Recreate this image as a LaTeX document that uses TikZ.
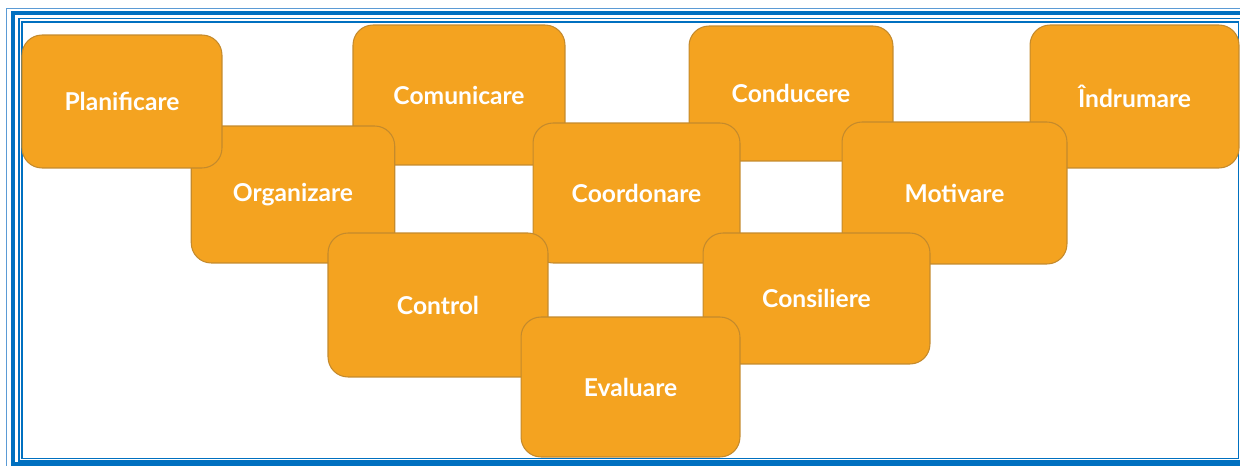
\documentclass[tikz,border=0pt]{standalone}
\usepackage{fontspec}
\setmainfont{Lato}
\usepackage{xcolor}
\usepackage{tikz}
\usetikzlibrary{positioning}

\definecolor{FrameBlue}{HTML}{0070C0}
\definecolor{FrameLight}{HTML}{5B9BD5}
\definecolor{BoxFill}{HTML}{F4A320}
\definecolor{BoxEdge}{HTML}{C48A2C}

\tikzset{
  task/.style={draw=BoxEdge, line width=0.6pt, fill=BoxFill, rounded corners=0.4cm,
    text=white, font=\fontsize{14}{16}\selectfont\bfseries, inner sep=0pt},
  frame/.style={draw=FrameBlue}
}

\begin{document}
\begin{tikzpicture}[x=0.02cm, y=-0.02cm]
\useasboundingbox (0, 0) rectangle (1240, 466);
\clip (0, 0) rectangle (1240, 466);

% double blue frame
\draw[draw=FrameLight, line width=0.5pt] (6, 8.5) rectangle (1300, 500);
\draw[frame, line width=2.4pt] (13.2, 13.3) rectangle (1300, 464.5);
\draw[frame, line width=0.9pt] (19.2, 18.6) rectangle (1300, 461.2);
\draw[frame, line width=0.9pt] (21.8, 21.9) rectangle (1238.5, 458.6);

% boxes, back to front
\node[task, minimum width=4.24cm, minimum height=2.80cm] (com) at (459, 95) {Comunicare};
\node[task, minimum width=4.07cm, minimum height=2.74cm] (org) at (293, 194.5) {Organizare};
\node[task, minimum width=4.00cm, minimum height=2.66cm] (plan) at (122, 101.5) {Planificare};
\node[task, minimum width=4.08cm, minimum height=2.70cm] (cond) at (791, 93.5) {Conducere};
\node[task, minimum width=4.18cm, minimum height=2.86cm] (indr) at (1134.5, 96.5) {Îndrumare};
\node[task, minimum width=4.14cm, minimum height=2.80cm] (coord) at (636.5, 193) {Coordonare};
\node[task, minimum width=4.50cm, minimum height=2.84cm] (motiv) at (954.5, 193) {Motivare};
\node[task, minimum width=4.40cm, minimum height=2.88cm] (ctrl) at (438, 305) {Control};
\node[task, minimum width=4.54cm, minimum height=2.62cm] (cons) at (816.5, 298.5) {Consiliere};
\node[task, minimum width=4.38cm, minimum height=2.80cm] (eval) at (630.5, 387) {Evaluare};
\end{tikzpicture}
\end{document}
